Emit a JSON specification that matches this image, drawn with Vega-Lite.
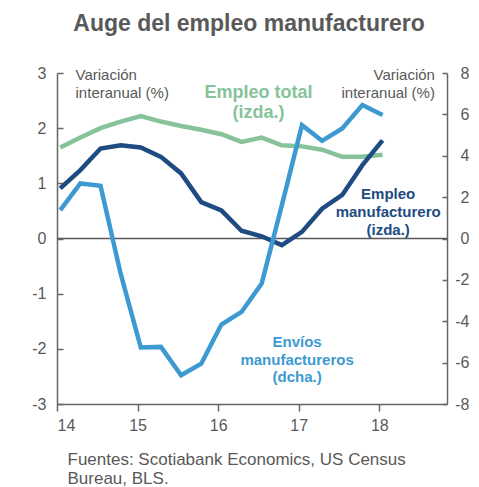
{
  "$schema": "https://vega.github.io/schema/vega-lite/v6.json",
  "width": 390,
  "height": 331,
  "autosize": "none",
  "padding": {"left": 57, "top": 73, "right": 32, "bottom": 83},
  "title": {
    "text": "Auge del empleo manufacturero",
    "fontSize": 23,
    "fontWeight": "bold",
    "color": "#595959",
    "font": "Liberation Sans",
    "anchor": "middle",
    "frame": "group",
    "offset": 29,
    "dx": -3
  },
  "config": {
    "view": {"stroke": null},
    "font": "Liberation Sans",
    "axis": {
      "grid": false,
      "domainColor": "#666666",
      "domainWidth": 1.5,
      "tickColor": "#666666",
      "tickWidth": 1.5,
      "labelColor": "#595959",
      "labelFont": "Liberation Sans",
      "labelFontSize": 16,
      "titleColor": "#595959",
      "labelExpr": "datum.value < 0 ? '-' + abs(datum.value) : '' + datum.value"
    }
  },
  "datasets": {
    "series": [
      {"t": 14.04, "total": 1.65, "manuf": 0.91, "envios": 1.37},
      {"t": 14.29, "total": 1.83, "manuf": 1.24, "envios": 2.66},
      {"t": 14.54, "total": 2.0, "manuf": 1.63, "envios": 2.55},
      {"t": 14.79, "total": 2.12, "manuf": 1.69, "envios": -1.7},
      {"t": 15.04, "total": 2.22, "manuf": 1.65, "envios": -5.27},
      {"t": 15.29, "total": 2.12, "manuf": 1.48, "envios": -5.24},
      {"t": 15.54, "total": 2.04, "manuf": 1.18, "envios": -6.61},
      {"t": 15.79, "total": 1.97, "manuf": 0.66, "envios": -6.05},
      {"t": 16.04, "total": 1.89, "manuf": 0.51, "envios": -4.16},
      {"t": 16.29, "total": 1.75, "manuf": 0.14, "envios": -3.55},
      {"t": 16.54, "total": 1.83, "manuf": 0.04, "envios": -2.18},
      {"t": 16.79, "total": 1.69, "manuf": -0.12, "envios": 1.6},
      {"t": 17.04, "total": 1.67, "manuf": 0.12, "envios": 5.48},
      {"t": 17.29, "total": 1.61, "manuf": 0.54, "envios": 4.72},
      {"t": 17.54, "total": 1.48, "manuf": 0.79, "envios": 5.32},
      {"t": 17.79, "total": 1.48, "manuf": 1.33, "envios": 6.45},
      {"t": 18.04, "total": 1.52, "manuf": 1.78, "envios": 5.97}
    ]
  },
  "encoding": {
    "x": {
      "field": "t",
      "type": "quantitative",
      "scale": {"domain": [14, 18.84], "nice": false, "zero": false},
      "axis": {
        "values": [14, 15, 16, 17, 18],
        "tickSize": 7,
        "labelPadding": 6,
        "title": ["Fuentes: Scotiabank Economics, US Census", "Bureau, BLS."],
        "titleFontSize": 17,
        "titleFontWeight": "normal",
        "titleAnchor": "start",
        "titleAlign": "left",
        "titleBaseline": "alphabetic",
        "titleX": 10,
        "titleY": 60,
        "titleLineHeight": 19
      }
    }
  },
  "layer": [
    {
      "layer": [
        {
          "data": {"name": "series"},
          "mark": {"type": "line", "color": "#86c39a", "strokeWidth": 4.5},
          "encoding": {
            "y": {
              "field": "total",
              "type": "quantitative",
              "scale": {"domain": [-3, 3], "nice": false, "zero": false},
              "axis": {
                "orient": "left",
                "values": [-3, -2, -1, 0, 1, 2, 3],
                "tickSize": -6,
                "labelPadding": 17,
                "title": null
              }
            }
          }
        },
        {
          "data": {"values": [{"v": 0}]},
          "mark": {"type": "rule", "color": "#595959", "strokeWidth": 1.5},
          "encoding": {"y": {"field": "v", "type": "quantitative"}, "x": null}
        },
        {
          "data": {"name": "series"},
          "mark": {"type": "line", "color": "#1e4b82", "strokeWidth": 4.5},
          "encoding": {"y": {"field": "manuf", "type": "quantitative"}}
        },
        {
          "data": {"values": [{"label": "Variación\ninteranual (%)", "x": 14.23, "y": 2.96}]},
          "mark": {"type": "text", "lineBreak": "\n", "align": "left", "baseline": "middle", "fontSize": 15, "lineHeight": 18, "color": "#595959"},
          "encoding": {"x": {"field": "x", "type": "quantitative"}, "y": {"field": "y", "type": "quantitative"}, "text": {"field": "label"}}
        },
        {
          "data": {"values": [{"label": "Variación\ninteranual (%)", "x": 18.69, "y": 2.96}]},
          "mark": {"type": "text", "lineBreak": "\n", "align": "right", "baseline": "middle", "fontSize": 15, "lineHeight": 18, "color": "#595959"},
          "encoding": {"x": {"field": "x", "type": "quantitative"}, "y": {"field": "y", "type": "quantitative"}, "text": {"field": "label"}}
        },
        {
          "data": {"values": [{"label": "Empleo total\n(izda.)", "x": 16.5, "y": 2.64}]},
          "mark": {"type": "text", "lineBreak": "\n", "align": "center", "baseline": "middle", "fontSize": 18, "fontWeight": "bold", "lineHeight": 20, "color": "#86c39a"},
          "encoding": {"x": {"field": "x", "type": "quantitative"}, "y": {"field": "y", "type": "quantitative"}, "text": {"field": "label"}}
        },
        {
          "data": {"values": [{"label": "Empleo\nmanufacturero\n(izda.)", "x": 18.11, "y": 0.8}]},
          "mark": {"type": "text", "lineBreak": "\n", "align": "center", "baseline": "middle", "fontSize": 15, "fontWeight": "bold", "lineHeight": 18, "color": "#1e4b82"},
          "encoding": {"x": {"field": "x", "type": "quantitative"}, "y": {"field": "y", "type": "quantitative"}, "text": {"field": "label"}}
        },
        {
          "data": {"values": [{"label": "Envíos\nmanufactureros\n(dcha.)", "x": 16.98, "y": -1.88}]},
          "mark": {"type": "text", "lineBreak": "\n", "align": "center", "baseline": "middle", "fontSize": 15, "fontWeight": "bold", "lineHeight": 17.5, "color": "#3d9ad1"},
          "encoding": {"x": {"field": "x", "type": "quantitative"}, "y": {"field": "y", "type": "quantitative"}, "text": {"field": "label"}}
        }
      ]
    },
    {
      "data": {"name": "series"},
      "mark": {"type": "line", "color": "#3d9ad1", "strokeWidth": 4.5},
      "encoding": {
        "y": {
          "field": "envios",
          "type": "quantitative",
          "scale": {"domain": [-8, 8], "nice": false, "zero": false},
          "axis": {
            "orient": "right",
            "values": [-8, -6, -4, -2, 0, 2, 4, 6, 8],
            "tickSize": -5,
            "labelAlign": "right",
            "labelPadding": 27,
            "title": null
          }
        }
      }
    }
  ],
  "resolve": {"scale": {"y": "independent"}}
}
